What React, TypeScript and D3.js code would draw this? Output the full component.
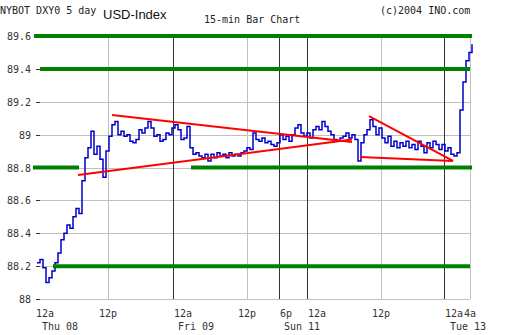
import React from "react";
import * as d3 from "d3";

// ---- data ----
const yTicks = [88, 88.2, 88.4, 88.6, 88.8, 89, 89.2, 89.4, 89.6];
const yTickLabels = ["88", "88.2", "88.4", "88.6", "88.8", "89", "89.2", "89.4", "89.6"];

// time axis (bar slots, weekend compressed)
const xTickSlots = [0, 68, 133, 207, 239, 267, 341, 404, 430];
const xTickLabels = ["12a", "12p", "12a", "12p", "6p", "12a", "12p", "12a", "4a"];
const xTickDark = [false, false, true, false, true, true, false, true, false];
const xTickAnchor = ["start", "middle", "start", "middle", "start", "start", "middle", "start", "middle"];
const dayLabels = ["Thu 08", "Fri 09", "Sun 11", "Tue 13"];
const daySlots = [2, 138, 244, 410];

// 15-min closes, one value every 3 slots starting at slot -3
const closes = [
  88.22, 88.24, 88.19, 88.10, 88.13, 88.17, 88.22, 88.28, 88.36, 88.40,
  88.45, 88.43, 88.50, 88.55, 88.52, 88.72, 88.86, 88.92, 89.02, 88.88,
  88.93, 88.85, 88.74, 88.90, 88.99, 89.06, 89.08, 89.00, 89.02, 88.99,
  89.00, 88.96, 88.95, 88.97, 89.03, 89.01, 89.04, 89.08, 89.04, 88.99,
  89.00, 88.96, 88.97, 89.01, 89.00, 89.04, 89.06, 89.03, 88.97, 88.98,
  89.05, 88.92, 88.88, 88.89, 88.87, 88.86, 88.88, 88.84, 88.88, 88.86,
  88.89, 88.87, 88.88, 88.86, 88.89, 88.87, 88.88, 88.87, 88.89, 88.90,
  88.92, 88.91, 89.01, 88.97, 88.96, 88.98, 88.95, 88.96, 88.94, 88.93,
  88.95, 89.00, 88.97, 88.99, 88.96, 89.00, 89.04, 89.06, 89.01, 88.99,
  89.01, 88.98, 89.03, 89.05, 89.03, 89.08, 89.05, 89.02, 89.00, 88.97,
  88.96, 88.98, 88.99, 89.01, 88.98, 89.00, 88.97, 88.84, 88.95, 89.00,
  89.03, 89.09, 89.05, 89.00, 89.04, 88.98, 88.95, 88.99, 88.93, 88.96,
  88.92, 88.95, 88.93, 88.96, 88.92, 88.94, 88.91, 88.96, 88.93, 88.89,
  88.95, 88.92, 88.96, 88.94, 88.91, 88.94, 88.90, 88.92, 88.88, 88.87,
  88.89, 89.15, 89.32, 89.45, 89.50, 89.55,
];
const closeStartSlot = -3;
const closeStep = 3;

// red trend lines: [slot, value] pairs
const trendLines = [
  [[72, 89.12], [312, 88.955]],
  [[38, 88.755], [312, 88.97]],
  [[329, 89.113], [413, 88.84]],
  [[320, 88.864], [413, 88.84]],
];

// green support / resistance levels
const levelValues = [89.6, 89.4, 88.8, 88.8, 88.2];
const levelFrom = [-6, 0, -7, 151, 13];
const levelTo = [432, 430, 39, 432, 430];

export default function App() {
  const W = 512;
  const H = 335;
  const x = d3.scaleLinear().domain([0, 430]).range([40, 470]);
  const y = d3.scaleLinear().domain([88, 89.6]).range([299, 36]);
  const mono = "'DejaVu Sans Mono', monospace";

  const pts: [number, number][] = closes.map((v, i) => [closeStartSlot + i * closeStep, v]);
  const priceLine = d3
    .line<[number, number]>()
    .x((d) => x(d[0]))
    .y((d) => y(d[1]))
    .curve(d3.curveStepAfter)(pts) as string;

  const trend = d3
    .line<number[]>()
    .x((d) => x(d[0]))
    .y((d) => y(d[1]));

  return (
    <svg
      width={W}
      height={H}
      style={{ position: "absolute", left: 0, top: 0, background: "#fff" }}
    >
      <rect x={0} y={0} width={W} height={H} fill="#fff" />
      {/* horizontal grid */}
      {yTicks.map((t, i) => (
        <g key={"yg" + i}>
          <line x1={40} x2={470} y1={Math.round(y(t)) + 0.5} y2={Math.round(y(t)) + 0.5} stroke="#c0c0c0" />
          <line x1={36} x2={40} y1={Math.round(y(t)) + 0.5} y2={Math.round(y(t)) + 0.5} stroke="#333" />
          <text
            x={31}
            y={y(t) + 4}
            textAnchor="end"
            fontFamily={mono}
            fontSize={10}
            fill="#333"
          >
            {yTickLabels[i]}
          </text>
        </g>
      ))}
      {/* vertical grid */}
      {xTickSlots.map((s, i) =>
        i === 0 ? null : (
          <line
            key={"xg" + i}
            x1={Math.round(x(s)) + 0.5}
            x2={Math.round(x(s)) + 0.5}
            y1={36}
            y2={299}
            stroke={xTickDark[i] ? "#333" : "#c0c0c0"}
          />
        )
      )}
      {xTickSlots.map((s, i) => (
        <text
          key={"xl" + i}
          x={i === 0 ? 36 : x(s) + (xTickAnchor[i] === "start" ? 1 : 0)}
          y={317}
          textAnchor={xTickAnchor[i]}
          fontFamily={mono}
          fontSize={10}
          fill="#333"
        >
          {xTickLabels[i]}
        </text>
      ))}
      {dayLabels.map((d, i) => (
        <text key={"dl" + i} x={x(daySlots[i])} y={330} fontFamily={mono} fontSize={10} fill="#333">
          {d}
        </text>
      ))}
      {/* price */}
      <path d={priceLine} fill="none" stroke="#0000cc" strokeWidth={1.5} />
      {/* green levels */}
      {levelValues.map((v, i) => (
        <line
          key={"lv" + i}
          x1={x(levelFrom[i])}
          x2={x(levelTo[i])}
          y1={y(v)}
          y2={y(v)}
          stroke="#008000"
          strokeWidth={4}
        />
      ))}
      {/* red trend lines */}
      {trendLines.map((l, i) => (
        <path key={"tl" + i} d={trend(l as number[][]) as string} fill="none" stroke="#ff0000" strokeWidth={2} />
      ))}
      {/* titles */}
      <text x={0} y={14} fontFamily={mono} fontSize={10} fill="#222">NYBOT DXY0 5 day</text>
      <text x={103} y={19} fontFamily="'Liberation Sans', Arial, sans-serif" fontSize={13} fill="#111">USD-Index</text>
      <text x={204} y={23} fontFamily={mono} fontSize={10} fill="#222">15-min Bar Chart</text>
      <text x={380} y={14} fontFamily={mono} fontSize={10} fill="#222">(c)2004 INO.com</text>
    </svg>
  );
}
